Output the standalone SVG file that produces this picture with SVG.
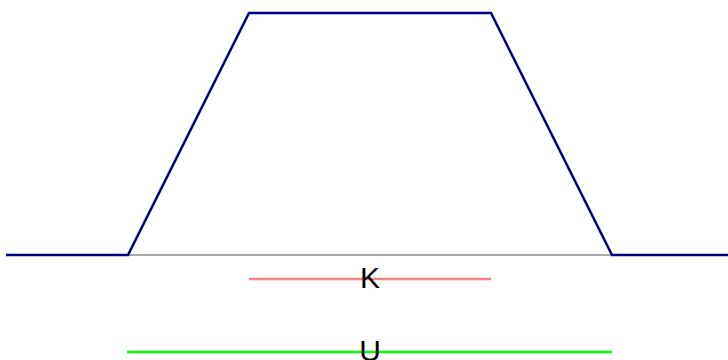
<svg xmlns="http://www.w3.org/2000/svg" width="728" height="360" viewBox="0 0 728 360">
<style>
.lbl{font-family:"Liberation Sans",Arial,sans-serif;font-size:30px;fill:#000;text-anchor:middle}
</style>
<rect width="728" height="360" fill="#fff"/>
<g id="connectors">
<line x1="6" y1="255" x2="728" y2="255" stroke="#555" stroke-width="1"/>
<polyline points="6,255 128,255 249,13 491,13 612,255 728,255" fill="none" stroke="#000080" stroke-width="2.5"/>
</g>
<g id="K">
<line x1="249" y1="279" x2="491" y2="279" stroke="#ff8080" stroke-width="2.5"/>
<text class="lbl" x="370" y="288">K</text>
</g>
<g id="U">
<line x1="127" y1="352" x2="612" y2="352" stroke="#00ff00" stroke-width="2.5"/>
<text class="lbl" x="370" y="361">U</text>
</g>
</svg>
